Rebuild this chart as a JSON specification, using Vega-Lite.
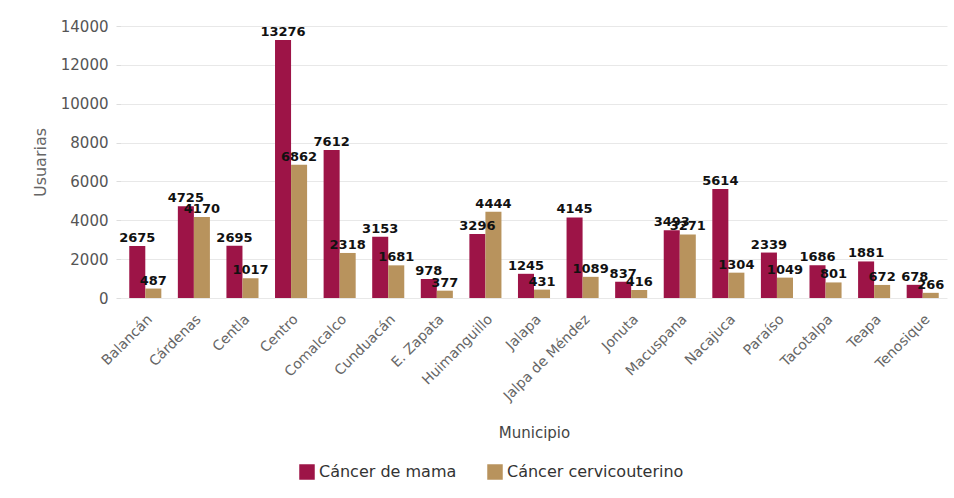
{
  "$schema": "https://vega.github.io/schema/vega-lite/v6.json",
  "width": 826,
  "height": 272,
  "autosize": {"type": "none"},
  "padding": {"left": 121, "top": 26, "right": 7, "bottom": 200},
  "background": "white",
  "config": {
    "view": {"stroke": null},
    "font": "DejaVu Sans"
  },
  "data": {
    "values": [
      {"municipio": "Balancán", "tipo": "Cáncer de mama", "usuarias": 2675},
      {"municipio": "Balancán", "tipo": "Cáncer cervicouterino", "usuarias": 487},
      {"municipio": "Cárdenas", "tipo": "Cáncer de mama", "usuarias": 4725},
      {"municipio": "Cárdenas", "tipo": "Cáncer cervicouterino", "usuarias": 4170},
      {"municipio": "Centla", "tipo": "Cáncer de mama", "usuarias": 2695},
      {"municipio": "Centla", "tipo": "Cáncer cervicouterino", "usuarias": 1017},
      {"municipio": "Centro", "tipo": "Cáncer de mama", "usuarias": 13276},
      {"municipio": "Centro", "tipo": "Cáncer cervicouterino", "usuarias": 6862},
      {"municipio": "Comalcalco", "tipo": "Cáncer de mama", "usuarias": 7612},
      {"municipio": "Comalcalco", "tipo": "Cáncer cervicouterino", "usuarias": 2318},
      {"municipio": "Cunduacán", "tipo": "Cáncer de mama", "usuarias": 3153},
      {"municipio": "Cunduacán", "tipo": "Cáncer cervicouterino", "usuarias": 1681},
      {"municipio": "E. Zapata", "tipo": "Cáncer de mama", "usuarias": 978},
      {"municipio": "E. Zapata", "tipo": "Cáncer cervicouterino", "usuarias": 377},
      {"municipio": "Huimanguillo", "tipo": "Cáncer de mama", "usuarias": 3296},
      {"municipio": "Huimanguillo", "tipo": "Cáncer cervicouterino", "usuarias": 4444},
      {"municipio": "Jalapa", "tipo": "Cáncer de mama", "usuarias": 1245},
      {"municipio": "Jalapa", "tipo": "Cáncer cervicouterino", "usuarias": 431},
      {"municipio": "Jalpa de Méndez", "tipo": "Cáncer de mama", "usuarias": 4145},
      {"municipio": "Jalpa de Méndez", "tipo": "Cáncer cervicouterino", "usuarias": 1089},
      {"municipio": "Jonuta", "tipo": "Cáncer de mama", "usuarias": 837},
      {"municipio": "Jonuta", "tipo": "Cáncer cervicouterino", "usuarias": 416},
      {"municipio": "Macuspana", "tipo": "Cáncer de mama", "usuarias": 3493},
      {"municipio": "Macuspana", "tipo": "Cáncer cervicouterino", "usuarias": 3271},
      {"municipio": "Nacajuca", "tipo": "Cáncer de mama", "usuarias": 5614},
      {"municipio": "Nacajuca", "tipo": "Cáncer cervicouterino", "usuarias": 1304},
      {"municipio": "Paraíso", "tipo": "Cáncer de mama", "usuarias": 2339},
      {"municipio": "Paraíso", "tipo": "Cáncer cervicouterino", "usuarias": 1049},
      {"municipio": "Tacotalpa", "tipo": "Cáncer de mama", "usuarias": 1686},
      {"municipio": "Tacotalpa", "tipo": "Cáncer cervicouterino", "usuarias": 801},
      {"municipio": "Teapa", "tipo": "Cáncer de mama", "usuarias": 1881},
      {"municipio": "Teapa", "tipo": "Cáncer cervicouterino", "usuarias": 672},
      {"municipio": "Tenosique", "tipo": "Cáncer de mama", "usuarias": 678},
      {"municipio": "Tenosique", "tipo": "Cáncer cervicouterino", "usuarias": 266}
    ]
  },
  "encoding": {
    "x": {
      "field": "municipio",
      "type": "nominal",
      "sort": null,
      "scale": {"paddingInner": 0.34, "paddingOuter": 0.17},
      "axis": {
        "title": "Municipio",
        "titleFontWeight": "normal",
        "titleFontSize": 15,
        "titleColor": "#444",
        "titleY": 134,
        "titleBaseline": "middle",
        "labelAngle": -45,
        "labelFontSize": 14,
        "labelColor": "#666",
        "labelPadding": 14,
        "ticks": false,
        "domain": false
      }
    },
    "xOffset": {"field": "tipo", "type": "nominal", "sort": ["Cáncer de mama", "Cáncer cervicouterino"]},
    "y": {
      "field": "usuarias",
      "type": "quantitative",
      "scale": {"domain": [0, 14000], "nice": false},
      "axis": {
        "title": "Usuarias",
        "titleFontWeight": "normal",
        "titleFontSize": 16,
        "titleColor": "#666",
        "titleX": -81,
        "titleBaseline": "middle",
        "values": [0, 2000, 4000, 6000, 8000, 10000, 12000, 14000],
        "format": "d",
        "labelFontSize": 15,
        "labelColor": "#555",
        "labelPadding": 8,
        "domain": false,
        "tickColor": "#ddd",
        "tickSize": 5,
        "gridColor": "#e8e8e8"
      }
    }
  },
  "layer": [
    {
      "mark": {"type": "bar"},
      "encoding": {
        "color": {
          "field": "tipo",
          "type": "nominal",
          "sort": ["Cáncer de mama", "Cáncer cervicouterino"],
          "scale": {"domain": ["Cáncer de mama", "Cáncer cervicouterino"], "range": ["#9d1447", "#b8935d"]},
          "legend": {
            "title": null,
            "orient": "none",
            "direction": "horizontal",
            "legendX": 178,
            "legendY": 438,
            "symbolType": "square",
            "symbolSize": 240,
            "symbolStrokeWidth": 0,
            "labelFontSize": 16,
            "labelLimit": 400,
            "labelColor": "#333",
            "columnPadding": 30
          }
        }
      }
    },
    {
      "mark": {"type": "text", "baseline": "bottom", "dy": -1, "fontWeight": "bold", "fontSize": 13, "color": "#111"},
      "encoding": {
        "text": {"field": "usuarias", "type": "quantitative", "format": "d"}
      }
    }
  ]
}
